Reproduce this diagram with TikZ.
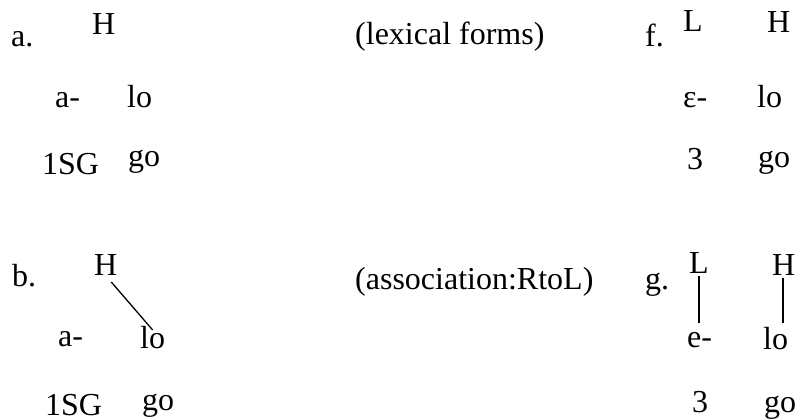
\documentclass[tikz,border=0pt]{standalone}
\usepackage{fontspec}
\setmainfont{Liberation Serif}
\begin{document}
\begin{tikzpicture}[x=1pt,y=-1pt,
  gl/.style={anchor=base west,inner sep=0pt,font=\fontsize{32}{38}\selectfont},
  assoc/.style={line width=1.3pt}]
\useasboundingbox (0,0) rectangle (795,419);

% a. lexical forms
\node[gl] (alab) at (11,47) {a.};
\node[gl] (aH)   at (92,35) {H};
\node[gl] (apre) at (55,108) {a-};
\node[gl] (alo)  at (127,108) {lo};
\node[gl] (agl1) at (42,175) {1SG};
\node[gl] (agl2) at (128,167) {go};

\node[gl] (lex) at (355,45) {(lexical forms)};

% f. lexical forms
\node[gl] (flab) at (645,47) {f.};
\node[gl] (fL)   at (683,32) {L};
\node[gl] (fH)   at (767,33) {H};
\node[gl] (fpre) at (683,108) {ε-};
\node[gl] (flo)  at (757,108) {lo};
\node[gl] (fgl1) at (687,170) {3};
\node[gl] (fgl2) at (758,168) {go};

% b. association right to left
\node[gl] (blab) at (12,287) {b.};
\node[gl] (bH)   at (94,276) {H};
\node[gl] (bpre) at (58,347) {a-};
\node[gl] (blo)  at (140,349) {lo};
\node[gl] (bgl1) at (45,415) {1SG};
\node[gl] (bgl2) at (142,410) {go};
\draw[assoc] ([xshift=5.5pt,yshift=-6pt]bH.base) -- ([yshift=19pt]blo.base);

\node[gl] (rtl) at (355,290) {(association:RtoL)};

% g. association right to left
\node[gl] (glab) at (645,290) {g.};
\node[gl] (gL)   at (689,274) {L};
\node[gl] (gH)   at (772,276) {H};
\node[gl] (gpre) at (687,348) {e-};
\node[gl] (glo)  at (763,350) {lo};
\node[gl] (ggl1) at (692,412) {3};
\node[gl] (ggl2) at (764,412) {go};
\draw[assoc] ([yshift=-2pt]gL.base) -- ([yshift=25pt]gL.base |- gpre.base);
\draw[assoc] ([xshift=-0.7pt,yshift=-2pt]gH.base) -- ([xshift=-0.7pt,yshift=27pt]gH.base |- glo.base);
\end{tikzpicture}
\end{document}
